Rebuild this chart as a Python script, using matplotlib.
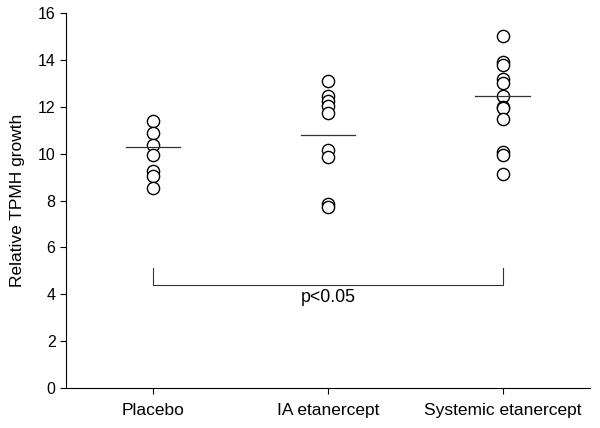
import numpy as np
import matplotlib.pyplot as plt

plt.rcParams['font.family'] = ['Liberation Sans', 'DejaVu Sans']

groups = ['Placebo', 'IA etanercept', 'Systemic etanercept']
placebo = [11.38, 10.88, 10.37, 9.94, 9.27, 9.04, 8.53]
ia = [13.10, 12.45, 12.25, 12.05, 11.75, 10.15, 9.85, 7.85, 7.72]
systemic = [15.03, 13.92, 13.78, 13.17, 13.02, 12.46, 12.0, 11.93, 11.5, 10.05, 9.94, 9.13]
centers = [10.3, 10.78, 12.44]
values = [placebo, ia, systemic]

fig = plt.figure(figsize=(6, 4.28), dpi=100)
ax = fig.add_axes([0.11, 0.0935, 0.873, 0.876])

for i, vals in enumerate(values):
    x = np.full(len(vals), i + 1)
    ax.plot(x, vals, 'o', mfc='white', mec='black', ms=8.8, mew=1.0,
            linestyle='none', zorder=2)
    ax.plot([i + 1 - 0.155, i + 1 + 0.155], [centers[i], centers[i]],
            color='#333333', lw=0.9, zorder=3)

# significance bracket
ax.plot([1, 1, 3, 3], [5.1, 4.38, 4.38, 5.1], color='#333333', lw=0.8)
ax.text(2, 4.22, 'p<0.05', ha='center', va='top', fontsize=12.8)

ax.set_xlim(0.5, 3.5)
ax.set_ylim(0, 16)
ax.set_xticks([1, 2, 3])
ax.set_xticklabels(groups, fontsize=12.5)
ax.set_yticks(np.arange(0, 17, 2))
ax.tick_params(axis='y', labelsize=11.5, direction='out', length=4, width=0.8)
ax.tick_params(axis='x', direction='out', length=4, width=0.8, pad=7)
ax.set_ylabel('Relative TPMH growth', fontsize=12.5, labelpad=9)

ax.spines['top'].set_visible(False)
ax.spines['right'].set_visible(False)
ax.spines['left'].set_linewidth(0.8)
ax.spines['bottom'].set_linewidth(0.8)

fig.savefig('out.png', dpi=100)
